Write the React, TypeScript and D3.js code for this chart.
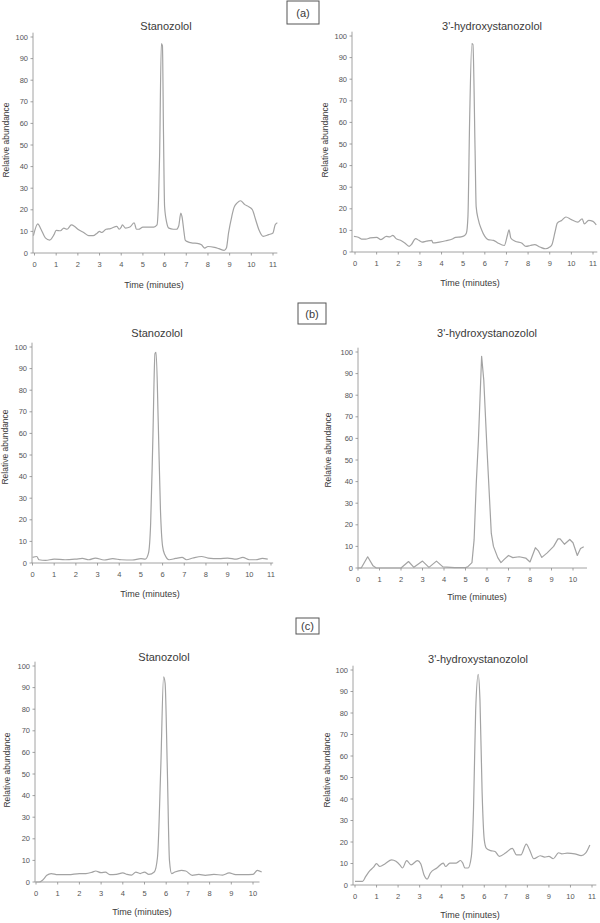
import React from 'react';
import * as d3 from 'd3';

type Pt = [number, number];

// (a) Stanozolol
const stanA: Pt[] = [
  [-0.05, 8], [0.15, 13.5], [0.3, 11], [0.5, 7], [0.7, 6], [0.9, 8.5], [1.0, 10.5], [1.2, 10.3],
  [1.35, 11.5], [1.5, 11], [1.7, 13], [1.85, 12.3], [2.0, 11], [2.3, 9.3], [2.5, 8], [2.7, 8],
  [2.9, 9.3], [3.0, 10], [3.1, 9.5], [3.3, 11], [3.5, 11.3], [3.8, 12.3], [3.9, 11], [4.0, 12],
  [4.05, 13], [4.2, 11.5], [4.4, 12], [4.6, 14], [4.7, 11], [4.8, 11], [5.0, 12], [5.5, 12],
  [5.65, 13], [5.72, 24.7], [5.77, 45], [5.85, 97], [5.9, 96], [5.95, 55], [6.0, 21.5], [6.1, 14],
  [6.2, 11.5], [6.4, 11], [6.55, 11], [6.65, 12.5], [6.75, 18.5], [6.8, 17], [6.9, 9.3], [6.95, 6],
  [7.0, 5.5], [7.3, 4.6], [7.5, 4.5], [7.7, 3.8], [7.85, 2.3], [8.0, 3], [8.3, 2.6], [8.5, 2],
  [8.75, 1.2], [8.85, 2.3], [8.95, 9.3], [9.1, 17], [9.2, 21], [9.35, 23.2], [9.5, 24.2], [9.7, 22.4],
  [9.9, 21.3], [10.05, 20], [10.2, 15.4], [10.35, 10.8], [10.55, 7.7], [10.8, 8.5], [11.0, 9.3],
  [11.1, 13.1], [11.2, 14],
];

// (a) 3'-hydroxystanozolol
const hydA: Pt[] = [
  [-0.05, 7.2], [0.15, 6.8], [0.3, 6], [0.5, 6], [0.7, 6.5], [1.0, 6.8], [1.2, 5.7], [1.45, 7.2],
  [1.6, 7], [1.75, 7.7], [1.9, 6.2], [2.1, 5.4], [2.3, 4.2], [2.5, 2.6], [2.6, 3.4], [2.8, 6.2],
  [2.95, 5.4], [3.1, 4.6], [3.3, 5], [3.55, 5.4], [3.6, 4.2], [3.9, 4.6], [4.2, 5.2], [4.5, 6],
  [4.65, 6.8], [4.9, 7], [5.05, 7.5], [5.15, 8.8], [5.22, 16.5], [5.3, 62], [5.4, 96.5], [5.45, 96],
  [5.55, 47], [5.6, 21], [5.7, 15], [5.85, 10.3], [6.0, 7.2], [6.15, 5.7], [6.4, 5.4], [6.6, 4.2],
  [6.9, 3], [7.05, 8], [7.12, 10.3], [7.2, 6.5], [7.4, 5], [7.7, 4.2], [7.9, 2.6], [8.1, 3],
  [8.3, 3.4], [8.55, 2.3], [8.8, 1.5], [9.0, 2.3], [9.1, 3.4], [9.25, 9.5], [9.35, 13.4], [9.55, 14.6],
  [9.75, 16.2], [10.0, 15], [10.3, 13.8], [10.5, 15.4], [10.6, 13], [10.8, 14.6], [11.0, 14.2],
  [11.15, 12.6],
];

// (b) Stanozolol
const stanB: Pt[] = [
  [0, 2.6], [0.2, 3], [0.3, 1.5], [0.6, 1.2], [1.0, 1.8], [1.5, 1.5], [2.0, 1.8], [2.3, 2.1],
  [2.6, 1.5], [2.9, 2.3], [3.3, 1.4], [3.7, 2], [4.1, 1.5], [4.6, 1.4], [5.0, 2], [5.2, 1.8],
  [5.35, 4.6], [5.45, 18.5], [5.55, 57], [5.65, 97], [5.7, 97.5], [5.8, 65], [5.9, 25], [6.0, 7.7],
  [6.1, 3.9], [6.3, 1.5], [6.6, 2.1], [6.9, 2.6], [7.1, 1.5], [7.4, 2.3], [7.8, 3], [8.1, 2.3],
  [8.6, 2], [9.0, 2.3], [9.4, 1.8], [9.7, 2.6], [10.0, 1.5], [10.3, 1.5], [10.6, 2.1], [10.85, 1.8],
];

// (b) 3'-hydroxystanozolol
const hydB: Pt[] = [
  [0, 0], [0.15, 0], [0.45, 5.2], [0.7, 1], [0.85, 0], [2.0, 0], [2.35, 3], [2.6, 0.3],
  [3.0, 3.2], [3.3, 0.3], [3.65, 3.2], [3.95, 0.5], [4.5, 0.2], [5.0, 0.2], [5.1, 0.5], [5.3, 2.5],
  [5.4, 13], [5.5, 39], [5.6, 59], [5.75, 98], [5.85, 87], [6.0, 55], [6.2, 16], [6.3, 10],
  [6.5, 4.8], [6.65, 2.5], [6.8, 4], [7.0, 5.8], [7.2, 4.8], [7.5, 5.2], [7.8, 4.6], [8.0, 2.8],
  [8.25, 9.4], [8.4, 7.8], [8.55, 4.9], [8.8, 7], [9.1, 10], [9.3, 13.5], [9.4, 13.5], [9.6, 11],
  [9.85, 13.2], [10.0, 11.7], [10.2, 5.8], [10.35, 9], [10.5, 9.8],
];

// (c) Stanozolol
const stanC: Pt[] = [
  [0, 0], [0.15, 0], [0.3, 0.8], [0.5, 3.1], [0.7, 3.9], [1.0, 3.4], [1.5, 3.4], [2.0, 3.9],
  [2.3, 3.9], [2.6, 4.6], [2.75, 5.1], [3.0, 4.3], [3.2, 4.6], [3.4, 3.4], [3.7, 3.5], [4.0, 4.2],
  [4.2, 3.5], [4.4, 3.2], [4.6, 4.6], [4.8, 3.9], [5.0, 4.6], [5.2, 3.5], [5.45, 4.6], [5.6, 11.6],
  [5.75, 53], [5.88, 95], [5.95, 92], [6.05, 53], [6.15, 10], [6.25, 3.9], [6.4, 4.6], [6.7, 5.4],
  [6.9, 5.1], [7.2, 3.1], [7.5, 3.5], [7.8, 3.1], [8.2, 3.5], [8.6, 3.2], [8.9, 4.2], [9.2, 3.4],
  [9.6, 3.4], [10.0, 3.5], [10.2, 5.4], [10.4, 4.6],
];

// (c) 3'-hydroxystanozolol
const hydC: Pt[] = [
  [0, 1.7], [0.35, 1.7], [0.5, 4], [0.7, 6.8], [0.85, 8.2], [1.0, 9.9], [1.15, 8.6], [1.4, 9.9],
  [1.7, 11.7], [1.9, 11], [2.1, 9.1], [2.2, 7.9], [2.4, 11.3], [2.6, 9.4], [2.9, 11.3], [3.05, 9.9],
  [3.2, 4.8], [3.35, 2.8], [3.5, 5.6], [3.8, 7.9], [4.1, 10.2], [4.2, 8.6], [4.4, 10.2], [4.7, 10.2],
  [4.9, 11.4], [5.0, 10.2], [5.1, 7.9], [5.25, 7.9], [5.4, 13.3], [5.5, 35], [5.6, 81], [5.72, 98],
  [5.8, 86], [5.9, 43], [6.0, 21], [6.1, 17], [6.3, 16], [6.5, 15.6], [6.7, 13.3], [7.0, 15],
  [7.3, 17], [7.5, 14], [7.7, 14], [7.95, 19], [8.1, 16.4], [8.3, 12.2], [8.6, 13.6], [8.8, 13],
  [9.0, 13.3], [9.2, 12.2], [9.45, 15], [9.6, 14.5], [9.85, 14.8], [10.2, 14.5], [10.5, 13.7],
  [10.7, 14.8], [10.9, 18.6],
];

const yTicks = [0, 10, 20, 30, 40, 50, 60, 70, 80, 90, 100];
const xTicks11 = [0, 1, 2, 3, 4, 5, 6, 7, 8, 9, 10, 11];
const xTicks10 = [0, 1, 2, 3, 4, 5, 6, 7, 8, 9, 10];

const TITLE_STAN = 'Stanozolol';
const TITLE_HYD = "3'-hydroxystanozolol";

interface Panel {
  data: Pt[];
  title: string;
  xTicks: number[];
  xr: [number, number]; // pixel for first / last tick
  yr: [number, number]; // pixel for 0 / 100
  axisX: number;
  xEnd: number;
  titleX: number;
  titleY: number;
  labX: number;
  labY: number;
  ylabX: number;
  ylabY: number;
  curve: d3.CurveFactory;
}

const panels: Panel[] = [
  { data: stanA, title: TITLE_STAN, xTicks: xTicks11, xr: [34.5, 273], yr: [253, 37], axisX: 33, xEnd: 11.2,
    titleX: 166, titleY: 30, labX: 154, labY: 288, ylabX: 9, ylabY: 140, curve: d3.curveMonotoneX },
  { data: hydA, title: TITLE_HYD, xTicks: xTicks11, xr: [355, 593], yr: [252, 36], axisX: 352, xEnd: 11.2,
    titleX: 492, titleY: 30, labX: 470, labY: 286, ylabX: 328, ylabY: 140, curve: d3.curveMonotoneX },
  { data: stanB, title: TITLE_STAN, xTicks: xTicks11, xr: [32.5, 271], yr: [563, 347], axisX: 32, xEnd: 11.1,
    titleX: 157, titleY: 337, labX: 150, labY: 597, ylabX: 8, ylabY: 447, curve: d3.curveMonotoneX },
  { data: hydB, title: TITLE_HYD, xTicks: xTicks10, xr: [358, 573], yr: [568, 352], axisX: 358, xEnd: 10.65,
    titleX: 487, titleY: 337, labX: 477, labY: 600, ylabX: 331, ylabY: 450, curve: d3.curveLinear },
  { data: stanC, title: TITLE_STAN, xTicks: xTicks10, xr: [36, 253], yr: [882, 666], axisX: 35, xEnd: 10.3,
    titleX: 164, titleY: 661, labX: 142, labY: 915, ylabX: 10, ylabY: 770, curve: d3.curveMonotoneX },
  { data: hydC, title: TITLE_HYD, xTicks: xTicks11, xr: [355, 592], yr: [885, 670], axisX: 353, xEnd: 11.2,
    titleX: 478, titleY: 663, labX: 470, labY: 918, ylabX: 330, ylabY: 770, curve: d3.curveMonotoneX },
];

const boxes = [
  { label: '(a)', x: 287, y: 1, w: 32, h: 23 },
  { label: '(b)', x: 298, y: 303, w: 28, h: 21 },
  { label: '(c)', x: 296, y: 618, w: 23, h: 16 },
];

const FONT = "'Liberation Sans', Arial, sans-serif";
const AXIS = '#8a8a8a';
const LINE = '#a3a3a3';
const TEXT = '#3a3a3a';

const ChartPanel: React.FC<{ p: Panel }> = ({ p }) => {
  const last = p.xTicks[p.xTicks.length - 1];
  const x = d3.scaleLinear().domain([0, last]).range(p.xr);
  const y = d3.scaleLinear().domain([0, 100]).range(p.yr);
  const line = d3.line<Pt>().x(d => x(d[0])).y(d => y(d[1])).curve(p.curve);
  const y0 = y(0);

  return (
    <g fontFamily={FONT}>
      <text x={p.titleX} y={p.titleY} textAnchor="middle" fontSize={11} fill={TEXT}>{p.title}</text>
      {/* axes */}
      <line x1={p.axisX} x2={p.axisX} y1={y(102)} y2={y0} stroke={AXIS} strokeWidth={0.8} />
      <line x1={p.axisX} x2={x(p.xEnd)} y1={y0} y2={y0} stroke={AXIS} strokeWidth={0.8} />
      {yTicks.map(t => (
        <g key={'y' + t}>
          <line x1={p.axisX - 2.5} x2={p.axisX} y1={y(t)} y2={y(t)} stroke={AXIS} strokeWidth={0.8} />
          <text x={p.axisX - 5} y={y(t) + 2.6} textAnchor="end" fontSize={7.5} fill="#555">{t}</text>
        </g>
      ))}
      {p.xTicks.map(t => (
        <g key={'x' + t}>
          <line x1={x(t)} x2={x(t)} y1={y0} y2={y0 + 2.5} stroke={AXIS} strokeWidth={0.8} />
          <text x={x(t)} y={y0 + 14} textAnchor="middle" fontSize={7.5} fill="#555">{t}</text>
        </g>
      ))}
      <text x={p.labX} y={p.labY} textAnchor="middle" fontSize={9} fill={TEXT}>Time (minutes)</text>
      <text transform={`translate(${p.ylabX},${p.ylabY}) rotate(-90)`} textAnchor="middle" fontSize={8.5} fill={TEXT}>
        Relative abundance
      </text>
      <path d={line(p.data) || ''} fill="none" stroke={LINE} strokeWidth={1.2} strokeLinejoin="round" />
    </g>
  );
};

const App: React.FC = () => (
  <svg width={600} height={923} style={{ position: 'absolute', left: 0, top: 0, background: '#fff' }}>
    <rect width={600} height={923} fill="#fff" />
    {boxes.map(b => (
      <g key={b.label}>
        <rect x={b.x} y={b.y} width={b.w} height={b.h} fill="none" stroke="#555" strokeWidth={1} />
        <text x={b.x + b.w / 2} y={b.y + b.h / 2 + 4} textAnchor="middle" fontFamily={FONT} fontSize={11} fill={TEXT}>
          {b.label}
        </text>
      </g>
    ))}
    {panels.map((p, i) => <ChartPanel key={i} p={p} />)}
  </svg>
);

export default App;
